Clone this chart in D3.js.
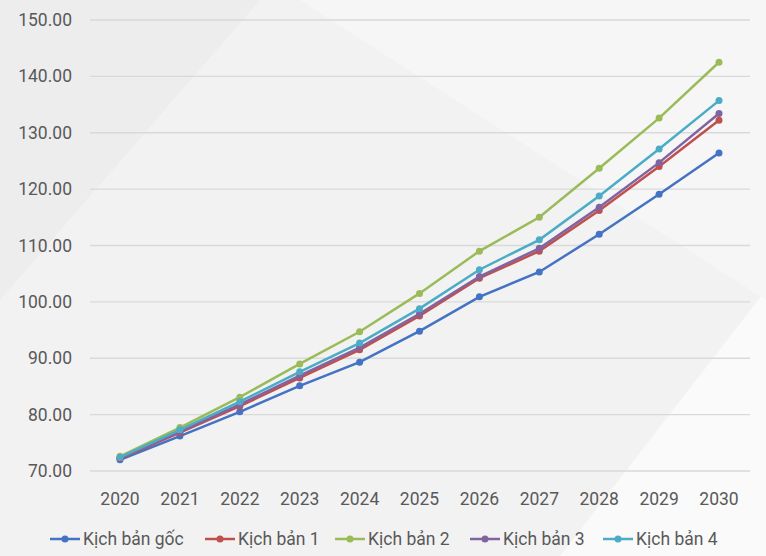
<!DOCTYPE html>
<html><head><meta charset="utf-8">
<script src="https://cdn.jsdelivr.net/npm/d3@7"></script>
<style>body{margin:0;background:#f3f3f3}svg{display:block}text{font-family:Roboto,"Noto Sans",sans-serif;fill:#595959;font-size:17.5px}</style>
</head><body><svg id="c" width="766" height="556"></svg>
<script>
const years = ["2020","2021","2022","2023","2024","2025","2026","2027","2028","2029","2030"];
const seriesNames = ["Kịch bản gốc","Kịch bản 1","Kịch bản 2","Kịch bản 3","Kịch bản 4"];
const base = [72.0,76.2,80.5,85.1,89.3,94.8,100.9,105.3,112.0,119.1,126.4];
const s1 = [72.2,76.8,81.5,86.5,91.5,97.5,104.2,109.0,116.2,124.0,132.2];
const s2 = [72.6,77.7,83.1,89.0,94.7,101.5,109.0,115.0,123.7,132.6,142.5];
const s3 = [72.3,77.0,81.8,86.9,91.9,97.9,104.5,109.5,116.8,124.7,133.4];
const s4 = [72.4,77.3,82.3,87.6,92.7,98.8,105.7,111.0,118.8,127.1,135.7];
const yTicks = [70,80,90,100,110,120,130,140,150];
const colors = ["#4472C4","#C0504D","#9BBB59","#8064A2","#4BACC6"];
const data = [base,s1,s2,s3,s4];

const svg = d3.select("#c");
svg.append("rect").attr("width",766).attr("height",556).attr("fill","#f2f2f2");
svg.append("polygon").attr("points","0,0 260,0 0,300").attr("fill","#e9e9e9").attr("opacity",0.6);
svg.append("polygon").attr("points","560,556 766,290 766,556").attr("fill","#fafafa");
svg.append("polygon").attr("points","300,0 766,0 766,300").attr("fill","#f6f6f6");

const x = d3.scalePoint().domain(years).range([120,719]);
const y = d3.scaleLinear().domain([70,150]).range([471,20]);

const g = svg.append("g");
g.selectAll("line.grid").data(yTicks).join("line").attr("class","grid")
 .attr("x1",90).attr("x2",750).attr("y1",d=>y(d)).attr("y2",d=>y(d))
 .attr("stroke","#d9d9d9").attr("stroke-width",1.3);
g.selectAll("text.yl").data(yTicks).join("text").attr("class","yl")
 .attr("x",72).attr("y",d=>y(d)+6).attr("text-anchor","end").text(d=>d.toFixed(2));
g.selectAll("text.xl").data(years).join("text").attr("class","xl")
 .attr("x",d=>x(d)).attr("y",505).attr("text-anchor","middle").text(d=>d);

const line = d3.line().x((d,i)=>x(years[i])).y(d=>y(d));
data.forEach((s,k)=>{
  g.append("path").datum(s).attr("d",line).attr("fill","none").attr("stroke",colors[k]).attr("stroke-width",2.5);
  g.selectAll("circle.s"+k).data(s).join("circle").attr("class","s"+k)
   .attr("cx",(d,i)=>x(years[i])).attr("cy",d=>y(d)).attr("r",3.5).attr("fill",colors[k]);
});

const legX = [50,205,335,470,603];
const lg = svg.append("g");
seriesNames.forEach((n,k)=>{
  const gg = lg.append("g").attr("transform",`translate(${legX[k]},539)`);
  gg.append("line").attr("x1",0).attr("x2",30).attr("stroke",colors[k]).attr("stroke-width",2.5);
  gg.append("circle").attr("cx",15).attr("r",3.5).attr("fill",colors[k]);
  gg.append("text").attr("x",33).attr("y",6).text(n);
});
</script></body></html>
